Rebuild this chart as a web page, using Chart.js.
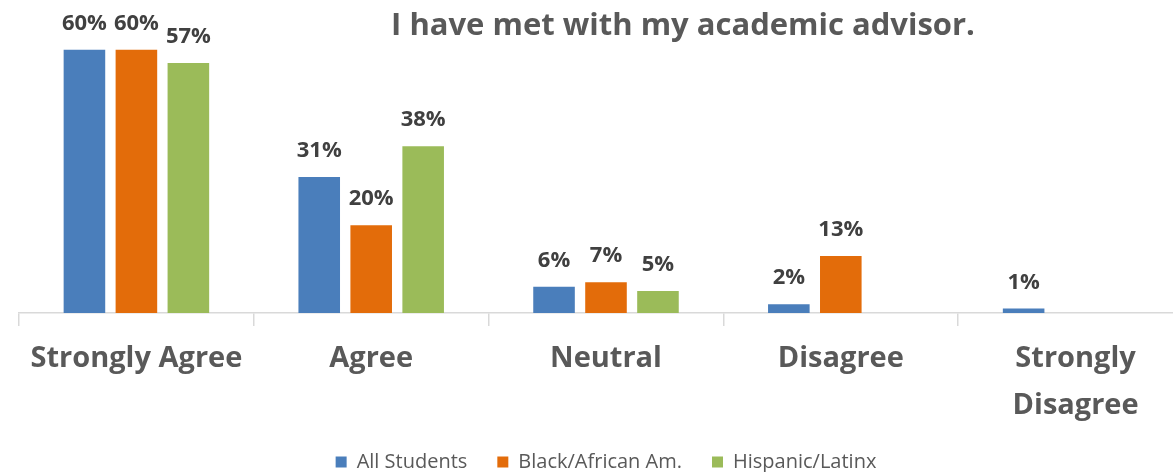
<!DOCTYPE html>
<html>
<head>
<meta charset="utf-8">
<script src="https://cdn.jsdelivr.net/npm/chart.js@4.4.0/dist/chart.umd.min.js"></script>
<style>
html,body{margin:0;padding:0;background:#fff;overflow:hidden;}
#wrap{width:1225px;height:482px;}
</style>
</head>
<body>
<div id="wrap"><canvas id="c" width="1225" height="482"></canvas></div>
<script>
const titleText = 'I have met with my academic advisor.';
const categories = ['Strongly Agree', 'Agree', 'Neutral', 'Disagree', ['Strongly', 'Disagree']];
const seriesNames = ['All Students', 'Black/African Am.', 'Hispanic/Latinx'];
const allStudents = [60, 31, 6, 2, 1];
const blackAfricanAm = [60, 20, 7, 13, null];
const hispanicLatinx = [57, 38, 5, null, null];
const colors = ['#4A7EBB', '#E36C0A', '#9BBB59'];

const FONT = '"Open Sans", "Liberation Sans", sans-serif';
const GRAY = '#595959';

const valueLabels = {
  id: 'valueLabels',
  afterDatasetsDraw(chart) {
    const ctx = chart.ctx;
    ctx.save();
    ctx.font = 'bold 22px ' + FONT;
    ctx.fillStyle = '#404040';
    ctx.textAlign = 'center';
    ctx.textBaseline = 'alphabetic';
    chart.data.datasets.forEach((ds, i) => {
      const meta = chart.getDatasetMeta(i);
      meta.data.forEach((bar, j) => {
        const v = ds.data[j];
        if (v === null || v === undefined) return;
        ctx.fillText(v + '%', bar.x, bar.y - 20);
      });
    });
    ctx.restore();
  }
};

const titlePlugin = {
  id: 'titleDraw',
  afterDraw(chart) {
    const ctx = chart.ctx;
    ctx.save();
    ctx.font = 'bold 31px ' + FONT;
    ctx.fillStyle = GRAY;
    ctx.textAlign = 'center';
    ctx.textBaseline = 'alphabetic';
    ctx.fillText(titleText, 683, 35);
    ctx.restore();
  }
};

new Chart(document.getElementById('c'), {
  type: 'bar',
  data: {
    labels: categories,
    datasets: [
      { label: seriesNames[0], data: allStudents, backgroundColor: colors[0] },
      { label: seriesNames[1], data: blackAfricanAm, backgroundColor: colors[1] },
      { label: seriesNames[2], data: hispanicLatinx, backgroundColor: colors[2] }
    ]
  },
  options: {
    responsive: false,
    animation: false,
    layout: { padding: { left: 19, right: 32, top: 6, bottom: 0 } },
    datasets: { bar: { categoryPercentage: 0.664, barPercentage: 0.8 } },
    scales: {
      x: {
        grid: { display: true, drawOnChartArea: false, drawTicks: true, tickLength: 13, color: '#d9d9d9', lineWidth: 1.5 },
        border: { display: true, color: '#d9d9d9', width: 1.5 },
        ticks: { color: GRAY, font: { family: FONT, size: 29, weight: 'bold', lineHeight: 1.6 }, padding: 10, maxRotation: 0, autoSkip: false },
        afterFit(scale) { scale.height = 109; }
      },
      y: {
        display: false,
        min: 0,
        max: 70
      }
    },
    plugins: {
      legend: {
        position: 'bottom',
        labels: { color: GRAY, font: { family: FONT, size: 20 }, boxWidth: 11, boxHeight: 11, padding: 30 }
      },
      tooltip: { enabled: false },
      title: { display: false }
    }
  },
  plugins: [valueLabels, titlePlugin]
});
</script>
</body>
</html>
